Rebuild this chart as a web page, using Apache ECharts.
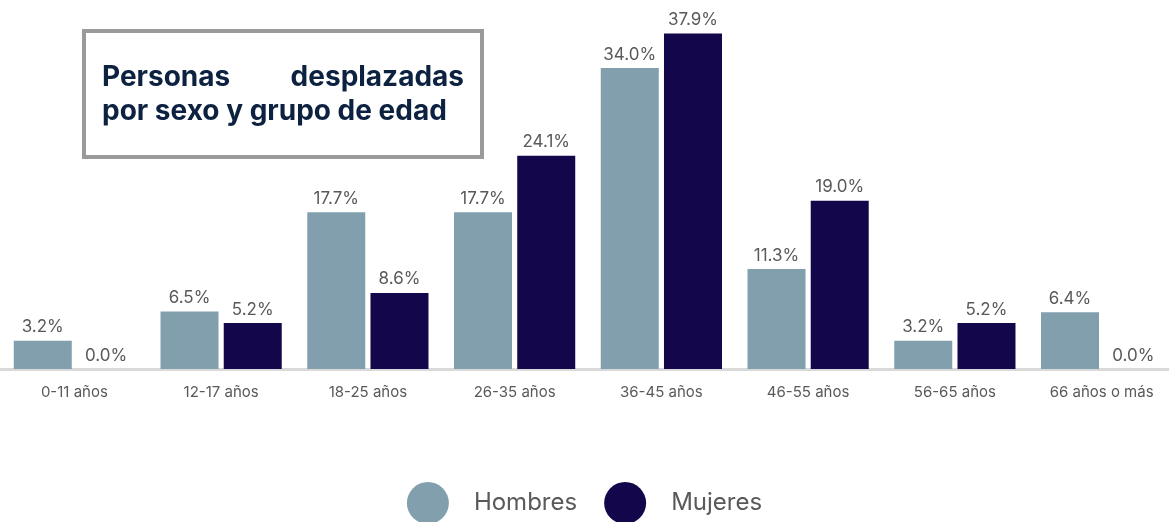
<!DOCTYPE html>
<html>
<head>
<meta charset="utf-8">
<script src="https://cdn.jsdelivr.net/npm/echarts@6/dist/echarts.min.js"></script>
<style>
  html, body { margin: 0; padding: 0; background: #fff; }
  #chart { width: 1169px; height: 522px; }
</style>
</head>
<body>
<div id="chart"></div>
<script>
const categories = ['0-11 años', '12-17 años', '18-25 años', '26-35 años', '36-45 años', '46-55 años', '56-65 años', '66 años o más'];
const hombres = [3.2, 6.5, 17.7, 17.7, 34.0, 11.3, 3.2, 6.4];
const mujeres = [0.0, 5.2, 8.6, 24.1, 37.9, 19.0, 5.2, 0.0];

const fontName = 'Inter';

const chart = echarts.init(document.getElementById('chart'));

const labelStyle = {
  show: true,
  position: 'top',
  distance: 5,
  color: '#595959',
  fontSize: 17,
  fontFamily: fontName,
  formatter: p => p.value.toFixed(1) + '%'
};

const option = {
  animation: false,
  grid: { left: 1, right: -6, top: 15, bottom: 153, outerBoundsMode: 'none', containLabel: false },
  xAxis: {
    type: 'category',
    data: categories,
    axisLine: { lineStyle: { color: '#d9d9d9', width: 3 } },
    axisTick: { show: false },
    axisLabel: { color: '#595959', fontSize: 15, fontFamily: fontName, margin: 16 }
  },
  yAxis: {
    type: 'value',
    min: 0,
    max: 40,
    show: false,
    splitLine: { show: false }
  },
  legend: {
    bottom: -7,
    left: 'center',
    icon: 'circle',
    itemWidth: 42,
    itemHeight: 42,
    itemGap: 27,
    textStyle: { color: '#595959', fontSize: 24, fontFamily: fontName, padding: [0, 0, 0, 20] },
    data: ['Hombres', 'Mujeres']
  },
  series: [
    {
      name: 'Hombres',
      type: 'bar',
      data: hombres,
      barWidth: 58,
      barGap: '9%',
      itemStyle: { color: '#819fad' },
      label: labelStyle
    },
    {
      name: 'Mujeres',
      type: 'bar',
      data: mujeres,
      barWidth: 58,
      itemStyle: { color: '#14064a' },
      label: labelStyle
    }
  ],
  graphic: [
    {
      type: 'rect',
      left: 82,
      top: 29,
      shape: { width: 398, height: 126 },
      style: { fill: '#fff', stroke: '#9a9a9a', lineWidth: 4 }
    },
    {
      type: 'text',
      left: 102,
      top: 64,
      style: { text: 'Personas', fill: '#0d2240', font: 'bold 28px ' + fontName }
    },
    {
      type: 'text',
      right: 1169 - 464,
      top: 64,
      style: { text: 'desplazadas', fill: '#0d2240', font: 'bold 28px ' + fontName, align: 'right' }
    },
    {
      type: 'text',
      left: 102,
      top: 98,
      style: { text: 'por sexo y grupo de edad', fill: '#0d2240', font: 'bold 28px ' + fontName }
    }
  ]
};

chart.setOption(option);
</script>
</body>
</html>
